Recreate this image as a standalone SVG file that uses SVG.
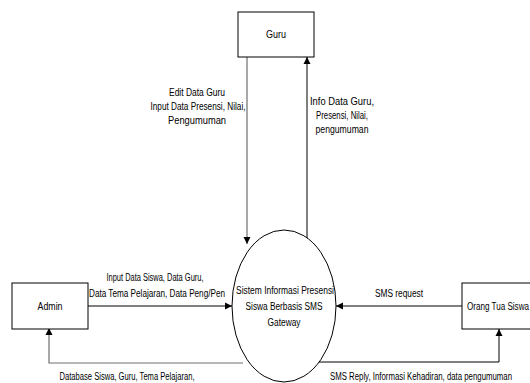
<svg xmlns="http://www.w3.org/2000/svg" width="530" height="383" viewBox="0 0 530 383">
<style>
.box{fill:#fff;stroke:#000;stroke-width:1}
.t{font-family:"Liberation Sans",Arial,sans-serif;font-size:10px;fill:#000}
.c{font-family:"Liberation Sans",Arial,sans-serif;font-size:10px;fill:#000}
.ln{fill:none;stroke:#000;stroke-width:1}
.lg{fill:none;stroke:#6e6e6e;stroke-width:1.2}
</style>
<defs>
<marker id="ah" viewBox="0 0 10 10" refX="10" refY="5" markerWidth="7" markerHeight="8" markerUnits="userSpaceOnUse" orient="auto">
<path d="M0,0 L10,5 L0,10 z" fill="#000"/>
</marker>
</defs>
<rect width="530" height="383" fill="#fff"/>
<g id="connectors">
<line class="lg" x1="247" y1="57" x2="247" y2="244" marker-end="url(#ah)"/>
<line class="ln" x1="307" y1="240" x2="307" y2="57" marker-end="url(#ah)"/>
<line class="ln" x1="88" y1="306" x2="232" y2="306" marker-end="url(#ah)"/>
<polyline class="lg" points="243,363 49,363 49,328" marker-end="url(#ah)"/>
<line class="ln" x1="462" y1="306" x2="336" y2="306" marker-end="url(#ah)"/>
<polyline class="ln" points="316,362 499,362 499,329" marker-end="url(#ah)"/>
<text class="c" x="197" y="96" text-anchor="middle" textLength="56" lengthAdjust="spacingAndGlyphs">Edit Data Guru</text>
<text class="c" x="198" y="110" text-anchor="middle" textLength="95" lengthAdjust="spacingAndGlyphs">Input Data Presensi, Nilai,</text>
<text class="c" x="197" y="124" text-anchor="middle" textLength="58" lengthAdjust="spacingAndGlyphs">Pengumuman</text>
<text class="c" x="342" y="105" text-anchor="middle" textLength="64" lengthAdjust="spacingAndGlyphs">Info Data Guru,</text>
<text class="c" x="342" y="119" text-anchor="middle" textLength="52" lengthAdjust="spacingAndGlyphs">Presensi, Nilai,</text>
<text class="c" x="342" y="133" text-anchor="middle" textLength="53" lengthAdjust="spacingAndGlyphs">pengumuman</text>
<text class="t" x="155" y="281" text-anchor="middle" textLength="97" lengthAdjust="spacingAndGlyphs">Input Data Siswa, Data Guru,</text>
<text class="t" x="157" y="297" text-anchor="middle" textLength="136" lengthAdjust="spacingAndGlyphs">Data Tema Pelajaran, Data Peng/Pen</text>
<text class="t" x="399" y="297" text-anchor="middle" textLength="48" lengthAdjust="spacingAndGlyphs">SMS request</text>
<text class="t" x="127" y="380" text-anchor="middle" textLength="135" lengthAdjust="spacingAndGlyphs">Database Siswa, Guru,  Tema Pelajaran,</text>
<text class="t" x="421" y="380" text-anchor="middle" textLength="182" lengthAdjust="spacingAndGlyphs">SMS Reply, Informasi Kehadiran, data pengumuman</text>
</g>
<g id="guru">
<rect class="box" x="238" y="12" width="76" height="45"/>
<text class="t" x="276" y="38" text-anchor="middle" textLength="20" lengthAdjust="spacingAndGlyphs">Guru</text>
</g>
<g id="admin">
<rect class="box" x="12" y="283" width="76" height="46"/>
<text class="t" x="50" y="310" text-anchor="middle" textLength="25" lengthAdjust="spacingAndGlyphs">Admin</text>
</g>
<g id="orangtua">
<rect class="box" x="462" y="283" width="76" height="46"/>
<text class="t" x="467" y="310" textLength="62" lengthAdjust="spacingAndGlyphs">Orang Tua Siswa</text>
</g>
<g id="sistem">
<ellipse class="box" cx="284" cy="306" rx="52" ry="76"/>
<text class="t" x="285" y="294" text-anchor="middle" textLength="98" lengthAdjust="spacingAndGlyphs">Sistem Informasi Presensi</text>
<text class="t" x="284" y="310" text-anchor="middle" textLength="77" lengthAdjust="spacingAndGlyphs">Siswa Berbasis SMS</text>
<text class="t" x="284" y="326" text-anchor="middle" textLength="33" lengthAdjust="spacingAndGlyphs">Gateway</text>
</g>
</svg>
